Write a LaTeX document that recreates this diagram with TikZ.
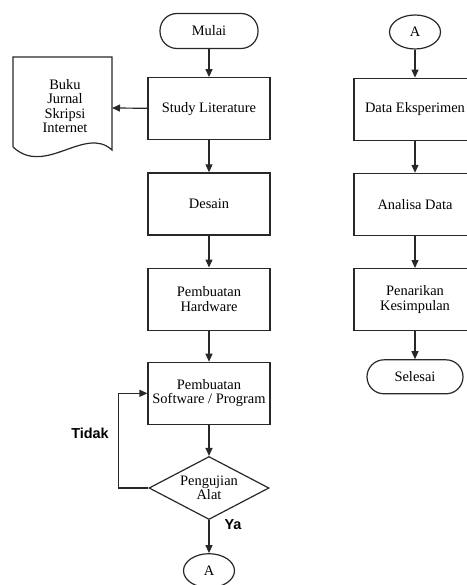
\documentclass[tikz,border=0pt]{standalone}
\usepackage{fontspec}
\setmainfont{Liberation Serif}
\newfontfamily\labelfont{Liberation Sans}
\usetikzlibrary{shapes.geometric, arrows.meta, positioning}
\definecolor{cLine}{RGB}{40,40,40}
\tikzset{
	terminal/.style ={rectangle, rounded corners=17bp, minimum width=98bp, minimum height=35bp, text centered, draw=cLine, line width=1.2bp},
	process/.style  ={rectangle, minimum width=122bp, minimum height=62bp, text centered, align=center, draw=cLine, line width=1.2bp},
	decision/.style ={diamond, aspect=1.9, minimum width=120bp, minimum height=63bp, text centered, align=center, draw=cLine, line width=1.2bp, inner sep=0pt},
	connector/.style={ellipse, minimum width=51bp, minimum height=34bp, draw=cLine, line width=1.2bp, inner sep=0pt},
	flowarrow/.style={-{Triangle[length=8bp, width=7bp]}, draw=cLine, line width=1.2bp},
	answer/.style   ={font=\labelfont\bfseries\fontsize{14.5}{16}\selectfont},
}
\begin{document}
\begin{tikzpicture}[x=1bp, y=-1bp, font=\fontsize{14.5}{14.5}\selectfont]
	\useasboundingbox (0,0) rectangle (467,585);
	% left column
	\node[terminal] (mulai) at (209,31) {Mulai};
	\node[process, below=28bp of mulai] (study) {Study Literature};
	\node[process, below=32bp of study] (desain) {Desain};
	\node[process, below=32bp of desain] (hardware) {Pembuatan\\Hardware};
	\node[process, below=31bp of hardware] (software) {Pembuatan\\Software / Program};
	\node[decision, below=31bp of software] (uji) {Pengujian\\Alat};
	\node[connector, below=33bp of uji] (konA) {A};
	% document shape
	\draw[draw=cLine, line width=1.2bp] (13,147) -- (13,57) -- (112,57) -- (112,150)
		.. controls (85,125) and (45,177) .. (13,147);
	\node[align=center] (pustaka) at (65,106) {Buku\\Jurnal\\Skripsi\\Internet};
	\coordinate (pustakaR) at (112,108);
	% right column
	\node[connector] (mulaiA) at (415,32) {A};
	\node[process, below=28bp of mulaiA] (data) {Data Eksperimen};
	\node[process, below=32bp of data] (analisa) {Analisa Data};
	\node[process, below=32bp of analisa] (simpul) {Penarikan\\Kesimpulan};
	\node[terminal, minimum width=96bp, minimum height=34bp, below=28bp of simpul] (selesai) {Selesai};
	% labels
	\node[answer] (tidak) at (90,433) {Tidak};
	\node[answer] (ya) at (233,525) {Ya};
	% connectors
	\draw[flowarrow] (mulai) -- (study);
	\draw[flowarrow] (study) -- (pustakaR);
	\draw[flowarrow] (study) -- (desain);
	\draw[flowarrow] (desain) -- (hardware);
	\draw[flowarrow] (hardware) -- (software);
	\draw[flowarrow] (software) -- (uji);
	\draw[flowarrow] (uji) -- (konA);
	\draw[flowarrow] (uji.west) -- ++(-30,0) |- (software.west);
	\draw[flowarrow] (mulaiA) -- (data);
	\draw[flowarrow] (data) -- (analisa);
	\draw[flowarrow] (analisa) -- (simpul);
	\draw[flowarrow] (simpul) -- (selesai);
\end{tikzpicture}
\end{document}
